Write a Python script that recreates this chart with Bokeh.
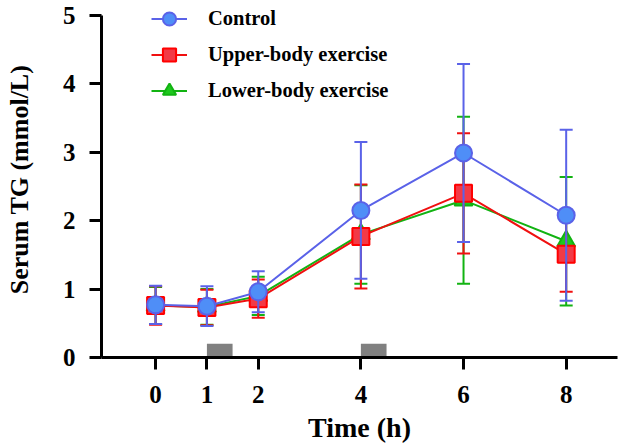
import numpy as np
from bokeh.plotting import figure
from bokeh.models import Range1d, FixedTicker, Legend, LegendItem, ColumnDataSource
from bokeh.embed import file_html
from bokeh.resources import INLINE

# ---- data ----
time_h = [0, 1, 2, 4, 6, 8]
control_mean = [0.77, 0.75, 0.96, 2.15, 2.99, 2.08]
control_sd = [0.28, 0.29, 0.30, 1.00, 1.30, 1.25]
upper_mean = [0.76, 0.73, 0.86, 1.77, 2.40, 1.51]
upper_sd = [0.28, 0.26, 0.28, 0.76, 0.88, 0.55]
lower_mean = [0.76, 0.74, 0.90, 1.80, 2.30, 1.70]
lower_sd = [0.27, 0.26, 0.28, 0.72, 1.22, 0.94]
exercise_start = [1, 4]
exercise_end = [1.5, 4.5]
exercise_height = [0.2, 0.2]
x_ticks = [0, 1, 2, 4, 6, 8]
y_ticks = [0, 1, 2, 3, 4, 5]

FONT = "Liberation Serif"

p = figure(width=620, height=448, output_backend="svg", toolbar_location=None,
           x_range=Range1d(-1.054, 9.0), y_range=Range1d(0, 5.205))
p.min_border_left = 101
p.min_border_right = 3
p.min_border_top = 1
p.min_border_bottom = 91
p.outline_line_color = None
p.grid.visible = False
p.background_fill_color = "white"
p.border_fill_color = "white"

# exercise periods
p.quad(left=exercise_start, right=exercise_end, bottom=[0, 0], top=exercise_height,
       fill_color="#808080", line_color=None)

series = [
    ("Lower-body exercise", lower_mean, lower_sd, "#12b312", "#1ec81e", "#12b312", "triangle", 18),
    ("Upper-body exercise", upper_mean, upper_sd, "#f01010", "#f23a46", "#ff0000", "square", 17),
    ("Control", control_mean, control_sd, "#5a62e8", "#4f8ef7", "#5a62e8", "circle", 17),
]

legend_renderers = {}
for name, mean, sd, lcol, fcol, ocol, marker, msize in series:
    m = np.array(mean)
    s = np.array(sd)
    src = ColumnDataSource(dict(x=time_h, y=m, lo=m - s, hi=m + s))
    p.segment(x0="x", y0="lo", x1="x", y1="hi", source=src, line_color=lcol, line_width=2)
    p.scatter(x="x", y="hi", source=src, marker="dash", size=13, line_color=lcol, line_width=2)
    p.scatter(x="x", y="lo", source=src, marker="dash", size=13, line_color=lcol, line_width=2)
    ln = p.line(x="x", y="y", source=src, line_color=lcol, line_width=2)
    sc = p.scatter(x="x", y="y", source=src, marker=marker, size=msize,
                   fill_color=fcol, line_color=ocol, line_width=2)
    legend_renderers[name] = [ln, sc]

legend = Legend(items=[
    LegendItem(label="Control", renderers=legend_renderers["Control"]),
    LegendItem(label="Upper-body exercise", renderers=legend_renderers["Upper-body exercise"]),
    LegendItem(label="Lower-body exercise", renderers=legend_renderers["Lower-body exercise"]),
], location=(50, 250))
legend.glyph_width = 36
legend.glyph_height = 33
legend.spacing = 3
legend.label_standoff = 21
legend.padding = 0
legend.margin = 0
legend.border_line_color = None
legend.background_fill_alpha = 0
legend.label_text_font = FONT
legend.label_text_font_style = "bold"
legend.label_text_font_size = "20.5px"
legend.label_text_color = "black"
p.add_layout(legend)

for ax in (p.xaxis[0], p.yaxis[0]):
    ax.axis_line_width = 3
    ax.axis_line_color = "black"
    ax.major_tick_line_width = 3
    ax.major_tick_line_color = "black"
    ax.major_tick_out = 12
    ax.major_tick_in = 0
    ax.minor_tick_line_color = None
    ax.major_label_text_font = FONT
    ax.major_label_text_font_style = "bold"
    ax.major_label_text_font_size = "25px"
    ax.major_label_text_color = "black"
    ax.axis_label_text_font = FONT
    ax.axis_label_text_font_style = "bold"
    ax.axis_label_text_color = "black"

p.yaxis.bounds = (0, 5)
p.xaxis.ticker = FixedTicker(ticks=x_ticks)
p.yaxis.ticker = FixedTicker(ticks=y_ticks)
p.xaxis.axis_label = "Time (h)"
p.yaxis.axis_label = "Serum TG (mmol/L)"
p.xaxis.axis_label_text_font_size = "28px"
p.yaxis.axis_label_text_font_size = "26px"
p.xaxis.major_label_standoff = 16
p.yaxis.major_label_standoff = 14
p.xaxis.axis_label_standoff = 6
p.yaxis.axis_label_standoff = 26

open("out.html", "w").write(file_html(p, INLINE))
